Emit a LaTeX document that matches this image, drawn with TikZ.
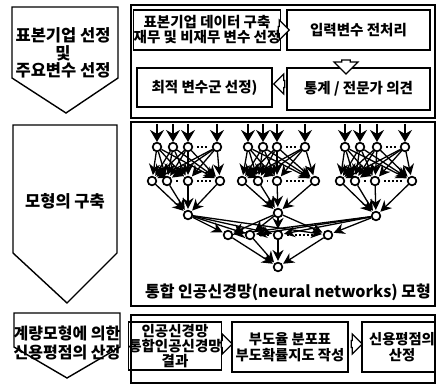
\documentclass[tikz,border=0pt]{standalone}
\usepackage{fontspec}
\setmainfont{Noto Sans CJK KR}
\usetikzlibrary{shapes.arrows,arrows.meta}
\begin{document}
\begin{tikzpicture}[x=1pt,y=-1pt,
  frame/.style={draw,line width=1.4pt},
  penta/.style={draw,line width=1.4pt,line join=miter},
  box/.style={draw,line width=1.4pt,inner sep=0pt,align=center,font=\bfseries\fontsize{14.5}{15}\selectfont},
  lbl/.style={align=center,inner sep=0pt,font=\bfseries\fontsize{16.5}{17.5}\selectfont},
  blockarr/.style={single arrow,draw,line width=1.2pt,fill=white,inner sep=1pt,single arrow head extend=3pt},
  neuron/.style={circle,draw,fill=white,line width=1.6pt,minimum size=8.5pt,inner sep=0pt},
  inarr/.style={line width=1.6pt,-{Stealth[length=12pt,width=14pt,inset=4pt]}},
  conn/.style={line width=1.3pt,-{Stealth[length=11pt,width=11pt]},shorten >=1pt},
  dots/.style={line width=2pt,dash pattern=on 2pt off 2pt,shorten <=4pt,shorten >=4pt}]
\useasboundingbox (0,0) rectangle (436,385);
% left pentagons
\draw[penta] (12,7) -- (118,7) -- (118,78) -- (66,113) -- (12,78) -- cycle;
\node[lbl] (l1) at (63,53) {표본기업 선정\\및\\주요변수 선정};
\draw[penta] (13,125) -- (117,125) -- (117,253) -- (67,303) -- (13,253) -- cycle;
\node[lbl] (l2) at (65,201) {모형의 구축};
\draw[penta] (14,313) -- (120,313) -- (120,347) -- (67,378) -- (14,347) -- cycle;
\node[lbl,font=\bfseries\fontsize{16}{19}\selectfont] (l3) at (67,343) {계량모형에 의한\\신용평점의 산정};
% frames
\draw[frame] (131,5) rectangle (435,118);
\draw[frame] (131,122) rectangle (435,306);
\draw[frame] (131,315) rectangle (435,383);
% top boxes
\node[box,minimum width=140pt,minimum height=40pt] (b1) at (207,30) {표본기업 데이터 구축\\재무 및 비재무 변수 선정};
\node[box,minimum width=143pt,minimum height=40pt] (b2) at (358.5,30) {입력변수 전처리};
\node[box,minimum width=135pt,minimum height=39pt] (b3) at (204.5,87.5) {최적 변수군 선정)};
\node[box,minimum width=143pt,minimum height=42pt] (b4) at (358.5,89) {통계 / 전문가 의견};
\node[blockarr,minimum height=11pt,minimum width=20pt] (a1) at (282,30) {};
\node[blockarr,minimum height=14pt,minimum width=24pt,shape border rotate=270] (a2) at (346,65) {};
\node[blockarr,minimum height=11pt,minimum width=20pt,shape border rotate=180] (a3) at (281,84) {};
% neural network
\foreach \k/\xa/\xb/\xc/\xd/\ya/\yb/\yc/\yd/\ox/\oy in
  {1/157/173/188/217/152/167/188/220/188/215,
   2/248/263/277/305/242/258/277/315/278/213,
   3/345/360/377/405/340/355/375/412/376/216}{
  \node[neuron] (t\k-1) at (\xa,147) {};
  \node[neuron] (t\k-2) at (\xb,147) {};
  \node[neuron] (t\k-3) at (\xc,147) {};
  \node[neuron] (t\k-4) at (\xd,147) {};
  \node[neuron] (h\k-1) at (\ya,181) {};
  \node[neuron] (h\k-2) at (\yb,181) {};
  \node[neuron] (h\k-3) at (\yc,181) {};
  \node[neuron] (h\k-4) at (\yd,181) {};
  \node[neuron] (o\k) at (\ox,\oy) {};
  \coordinate (i\k-1) at (\xa,124);
  \coordinate (i\k-2) at (\xb,124);
  \coordinate (i\k-3) at (\xc,124);
  \coordinate (i\k-4) at (\xd,124);
}
\foreach \k in {1,2,3}{
  \foreach \i in {1,...,4}{
    \draw[inarr] (i\k-\i) -- (t\k-\i);
    \draw[conn] (h\k-\i) -- (o\k);
    \foreach \j in {1,...,4}{
      \draw[conn] (t\k-\i) -- (h\k-\j);
    }
  }
  \draw[dots] (t\k-3) -- (t\k-4);
  \draw[dots] (h\k-2) -- (h\k-3);
  \draw[dots] (h\k-3) -- (h\k-4);
}
\node[neuron] (f1) at (228,235) {};
\node[neuron] (f2) at (250,235) {};
\node[neuron] (f3) at (278,235) {};
\node[neuron] (f4) at (328,235) {};
\node[neuron] (out) at (278,267) {};
\foreach \k in {1,2,3}{
  \foreach \j in {1,...,4}{
    \draw[conn] (o\k) -- (f\j);
  }
}
\foreach \j in {1,...,4}{
  \draw[conn] (f\j) -- (out);
}
\draw[dots] (f2) -- (f3);
\draw[dots] (f3) -- (f4);
% redraw neurons on top
\foreach \k in {1,2,3}{
  \foreach \i in {1,...,4}{
    \node[neuron] at (t\k-\i) {};
    \node[neuron] at (h\k-\i) {};
  }
  \node[neuron] at (o\k) {};
}
\foreach \j in {1,...,4}{\node[neuron] at (f\j) {};}
\node[neuron] at (out) {};
\node[lbl,font=\bfseries\fontsize{16}{16}\selectfont] (nnl) at (288,292) {통합 인공신경망(neural networks) 모형};
% bottom boxes
\node[box,minimum width=86pt,minimum height=48pt,font=\bfseries\fontsize{14.5}{13.5}\selectfont] (c1) at (175,346) {인공신경망\\통합인공신경망\\결과};
\node[box,minimum width=116pt,minimum height=50pt,font=\bfseries\fontsize{14.3}{16.5}\selectfont] (c2) at (290,347) {부도율 분포표\\부도확률지도 작성};
\node[box,minimum width=80pt,minimum height=50pt,font=\bfseries\fontsize{14.3}{16.5}\selectfont] (c3) at (402,347) {신용평점의\\산정};
\node[blockarr,minimum height=11pt,minimum width=20pt] (a4) at (225,344) {};
\node[blockarr,minimum height=11pt,minimum width=20pt] (a5) at (355,344) {};
\end{tikzpicture}
\end{document}
